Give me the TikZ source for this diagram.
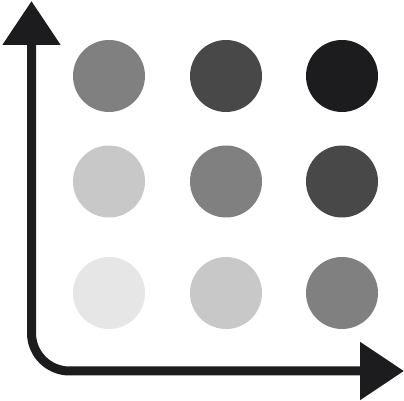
\documentclass[tikz,border=0pt]{standalone}
\usepackage{xcolor}
\usepackage{tikz}
\usetikzlibrary{arrows.meta, positioning, calc}
\definecolor{axisdark}{RGB}{28,28,30}
\definecolor{shade0}{RGB}{230,230,230}
\definecolor{shade1}{RGB}{200,200,200}
\definecolor{shade2}{RGB}{128,128,128}
\definecolor{shade3}{RGB}{72,72,72}
\definecolor{shade4}{RGB}{28,28,30}

\begin{document}
\begin{tikzpicture}[x=1pt,y=1pt,
  dot/.style={circle, minimum size=72pt, inner sep=0pt, draw=none},
  axisline/.style={draw=axisdark, line width=9pt, rounded corners=38pt,
    {Triangle[length=44pt,width=56pt]}-{Triangle[length=44pt,width=56pt]}}]
\useasboundingbox (0,0) rectangle (404,401);
% Axes
\coordinate (ytip) at (31.5,400);
\coordinate (xtip) at (404,30);
\draw[axisline] (ytip) |- (xtip);

% Grid of dots, darker towards top right
\foreach \y/\r in {325/0,219.5/1,108/2}
  \foreach \x/\c in {109/0,226/1,342/2} {
    \pgfmathtruncatemacro\lvl{2-\r+\c}
    \node[dot, fill=shade\lvl] (d\r\c) at (\x,\y) {};
  }
\end{tikzpicture}
\end{document}
